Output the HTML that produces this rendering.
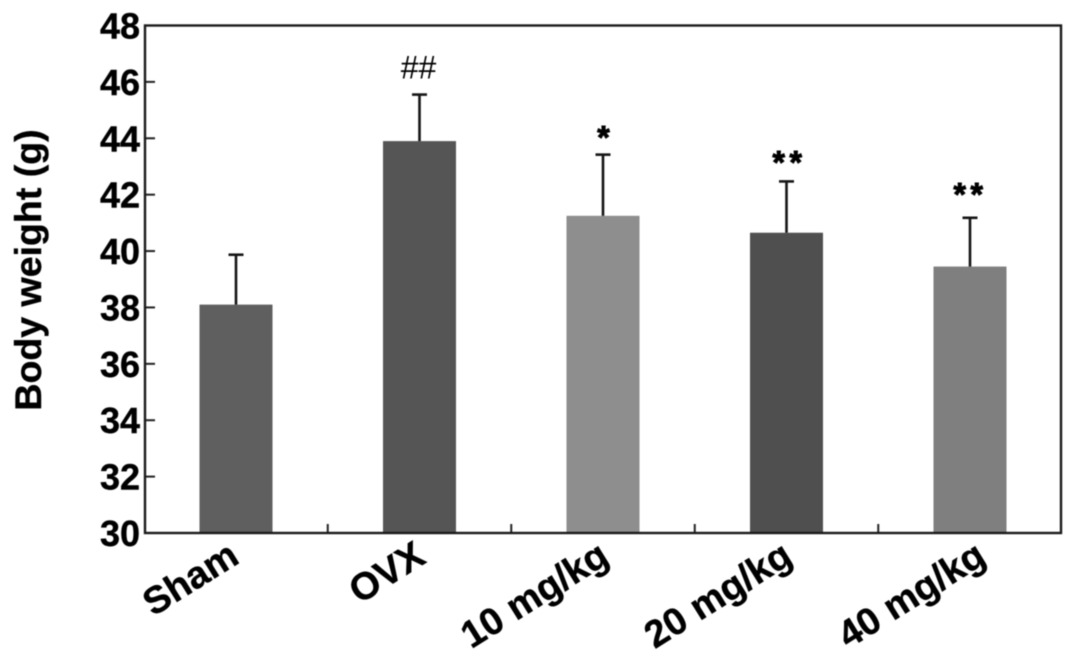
<!DOCTYPE html>
<html lang="en">
<head>
<meta charset="utf-8">
<title>Body weight chart</title>
<style>
html,body{margin:0;padding:0;background:#fff;width:1087px;height:657px;overflow:hidden}
svg{display:block;filter:blur(0.4px)}
text{font-family:"Liberation Sans",Arial,sans-serif;font-weight:bold;fill:#000;stroke:#000;stroke-width:0.4px}
</style>
</head>
<body>
<svg id="chart" xmlns="http://www.w3.org/2000/svg" width="1087" height="657" viewBox="0 0 1087 657"></svg>
<script>
const categories = ['Sham', 'OVX', '10 mg/kg', '20 mg/kg', '40 mg/kg'];
const means = [38.1, 43.9, 41.25, 40.65, 39.45];
const errorTops = [39.87, 45.55, 43.42, 42.47, 41.18];
const barColors = ['#5f5f5f', '#555555', '#8e8e8e', '#4f4f4f', '#7f7f7f'];
const significance = ['', '##', '*', '**', '**'];
const yTicks = [30, 32, 34, 36, 38, 40, 42, 44, 46, 48];

const plotLeft = 145, plotRight = 1061, plotTop = 25.5, plotBottom = 533;
const yMin = 30, yMax = 48;
const firstCenter = 236, bandStep = 183.5, barWidth = 73;

const svg = document.getElementById('chart');
function yScale(v) { return plotBottom - (v - yMin) / (yMax - yMin) * (plotBottom - plotTop); }
function xScale(i) { return firstCenter + i * bandStep; }
function labelShift(i) { return i === 4 ? 18 : (i === 0 ? 5 : 8); }
function markerGap(i) { return i === 1 ? 16 : (i === 2 ? 6 : (i === 3 ? 8 : 12.5)); }
function markerShift(i) { return i === 1 ? -1 : (i === 2 ? 0.5 : (i === 3 ? 3 : 0.5)); }
function mk(tag, attrs, parent) {
  const el = document.createElementNS('http://www.w3.org/2000/svg', tag);
  for (const k in attrs) el.setAttribute(k, attrs[k]);
  (parent || svg).appendChild(el);
  return el;
}

categories.forEach(function (cat, i) {
  const cx = xScale(i);
  const bar = mk('rect', { x: cx - barWidth / 2, y: yScale(means[i]), width: barWidth, height: plotBottom - yScale(means[i]), fill: barColors[i] });
  
  

  const stem = mk('line', { x1: cx, x2: cx, y1: yScale(means[i]), y2: yScale(errorTops[i]), stroke: '#151515', 'stroke-width': 2.6 });
  
  

  const cap = mk('line', { x1: cx - 7.5, x2: cx + 7.5, y1: yScale(errorTops[i]), y2: yScale(errorTops[i]), stroke: '#151515', 'stroke-width': 2.6 });
  
  

  if (significance[i]) {
    const isHash = significance[i] === '##';
    const mark = mk('text', { x: cx + markerShift(i), y: yScale(errorTops[i]) - markerGap(i), 'text-anchor': 'middle', 'font-size': 32 });
    mark.textContent = significance[i];
    if (isHash) { mark.style.fontWeight = 'normal'; mark.style.strokeWidth = '0'; }
    else {
      mark.style.strokeWidth = '1px';
      if (significance[i] === '**') { mark.setAttribute('letter-spacing', '4.5'); }
    }
    
    
  }

  const label = mk('text', { x: 0, y: 0, 'text-anchor': 'end', 'font-size': 38, transform: 'translate(' + (cx + labelShift(i)) + ' 562) rotate(-32)' });
  label.textContent = cat;
  
  

  if (i < categories.length - 1) {
    const tick = mk('line', { x1: cx + bandStep / 2, x2: cx + bandStep / 2, y1: plotBottom, y2: plotBottom - 9, stroke: '#222', 'stroke-width': 2 });
    
    
  }
});

yTicks.forEach(function (v) {
  const y = yScale(v);
  if (v !== yMin && v !== yMax) {
    const tick = mk('line', { x1: plotLeft, x2: plotLeft + 10, y1: y, y2: y, stroke: '#222', 'stroke-width': 2 });
    
    
  }
  const label = mk('text', { x: 140, y: y + 13, 'text-anchor': 'end', 'font-size': 36 });
  label.textContent = v;
  
  
});

const frame = mk('rect', { x: plotLeft, y: plotTop, width: plotRight - plotLeft, height: plotBottom - plotTop, fill: 'none', stroke: '#1a1a1a', 'stroke-width': 2.4 });



const yTitle = mk('text', { x: 0, y: 0, 'text-anchor': 'middle', 'font-size': 37.5, transform: 'translate(41 270) rotate(-90)' });
yTitle.textContent = 'Body weight (g)';


</script>
</body>
</html>
